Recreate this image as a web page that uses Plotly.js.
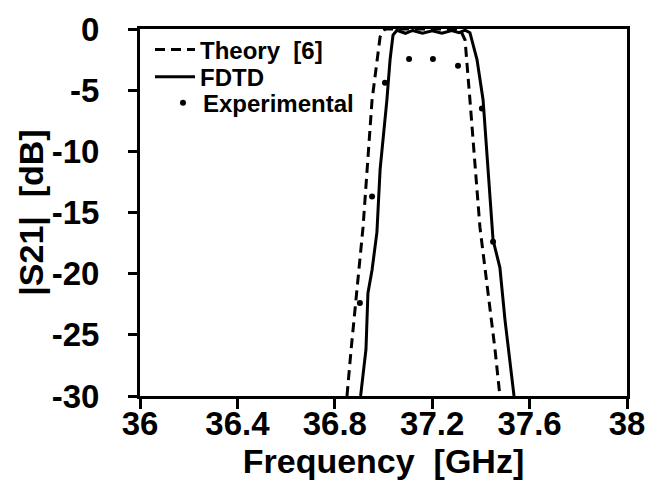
<!DOCTYPE html>
<html>
<head>
<meta charset="utf-8">
<script src="https://cdn.plot.ly/plotly-3.0.1.min.js"></script>
<style>html,body{margin:0;padding:0;background:#fff;}#chart{width:650px;height:494px;}</style>
</head>
<body>
<div id="chart"></div>
<script>
// Theory [6] (dashed)
var theoryFreq = [36.850, 36.867, 36.916, 36.953, 36.986, 37.006, 37.314, 37.335, 37.355, 37.396, 37.458, 37.478];
var theoryS21  = [-30.0, -26.2, -16.2, -5.8, -0.65, 0.0, 0.0, -0.9, -5.8, -16.2, -26.2, -30.0];

// FDTD (solid)
var fdtdFreq = [36.906, 36.928, 36.936, 36.953, 36.973, 36.986, 37.014, 37.027, 37.039, 37.055, 37.09, 37.12, 37.16, 37.20, 37.24, 37.28, 37.31, 37.335, 37.355, 37.384, 37.409, 37.437, 37.450, 37.478, 37.499, 37.536];
var fdtdS21  = [-30.0, -26.2, -21.6, -19.7, -16.6, -11.5, -5.8, -2.5, -0.5, -0.1, -0.35, -0.12, -0.35, -0.15, -0.35, -0.12, -0.3, -0.1, -0.3, -2.5, -5.8, -14.0, -17.25, -19.5, -23.8, -30.0];

// Experimental (dots)
var expFreq = [36.903, 36.953, 37.006, 37.105, 37.203, 37.306, 37.404, 37.450];
var expS21  = [-22.4, -13.7, -4.4, -2.45, -2.45, -3.0, -6.5, -17.4];

var xTicks = [36, 36.4, 36.8, 37.2, 37.6, 38];
var xTickLabels = ['36', '36.4', '36.8', '37.2', '37.6', '38'];
var yTicks = [0, -5, -10, -15, -20, -25, -30];
var yTickLabels = ['0', '-5', '-10', '-15', '-20', '-25', '-30'];

var FONT = 'Liberation Sans, Arial, Helvetica, sans-serif';
var legFont = {family: FONT, size: 24, color: '#000', weight: 'bold'};

var traces = [
  {x: theoryFreq, y: theoryS21, mode: 'lines', name: 'Theory\u00a0\u00a0[6]', legend: 'legend',
   line: {color: '#000', width: 3, dash: '10px,6px'}},
  {x: fdtdFreq, y: fdtdS21, mode: 'lines', name: 'FDTD', legend: 'legend2',
   line: {color: '#000', width: 3}},
  {x: expFreq, y: expS21, mode: 'markers', name: 'Experimental', legend: 'legend3',
   marker: {color: '#000', size: 6}}
];

function leg(x, y, w) {
  return {x: x, y: y, xanchor: 'left', yanchor: 'middle', bgcolor: 'rgba(0,0,0,0)',
          font: legFont, itemwidth: w, borderwidth: 0};
}

var layout = {
  width: 650, height: 494,
  margin: {l: 140, r: 23, t: 29, b: 98},
  paper_bgcolor: '#fff', plot_bgcolor: '#fff',
  showlegend: true,
  legend: leg(0.0205, 0.943, 40),
  legend2: leg(0.0205, 0.869, 40),
  legend3: leg(0.0472, 0.798, 30),
  xaxis: {
    range: [36, 38], tickvals: xTicks, ticktext: xTickLabels,
    showgrid: false, zeroline: false,
    showline: true, linecolor: '#000', linewidth: 3, mirror: true,
    ticks: 'outside', ticklen: 10, tickwidth: 3, tickcolor: '#000',
    ticklabelstandoff: -14,
    tickfont: {family: FONT, size: 33, color: '#000', weight: 'bold'},
    title: {text: 'Frequency  [GHz]', standoff: 8,
            font: {family: FONT, size: 34, color: '#000', weight: 'bold'}}
  },
  yaxis: {
    range: [-30, 0], tickvals: yTicks, ticktext: yTickLabels,
    showgrid: false, zeroline: false,
    showline: true, linecolor: '#000', linewidth: 3, mirror: true,
    ticks: 'outside', ticklen: 9, tickwidth: 3, tickcolor: '#000',
    ticklabelstandoff: 22,
    tickfont: {family: FONT, size: 33, color: '#000', weight: 'bold'},
    title: {text: '|S21|  [dB]', font: {family: FONT, size: 34, color: '#000', weight: 'bold'}}
  }
};

Plotly.newPlot('chart', traces, layout, {displayModeBar: false, staticPlot: true});
</script>
</body>
</html>
